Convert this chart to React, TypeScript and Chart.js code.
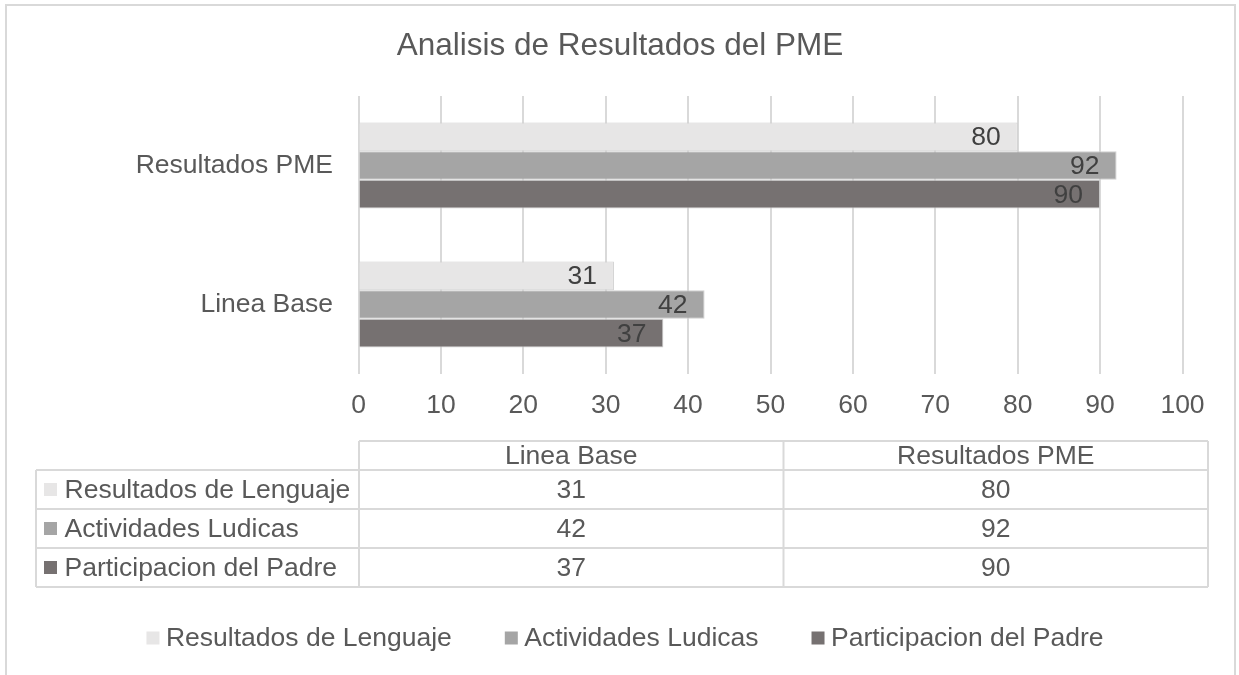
import { useEffect, useRef } from 'react';
import { Chart, registerables } from 'chart.js';

Chart.register(...registerables);

const chartTitle = 'Analisis de Resultados del PME';
const categories = ['Linea Base', 'Resultados PME'];
const seriesNames = ['Resultados de Lenguaje', 'Actividades Ludicas', 'Participacion del Padre'];
const lenguaje = [31, 80];
const ludicas = [42, 92];
const padre = [37, 90];
const seriesValues = [lenguaje, ludicas, padre];
const seriesColors = ['#E7E6E6', '#A5A5A5', '#767171'];
const xMin = 0;
const xMax = 100;
const xStep = 10;

const FONT = "'Liberation Sans', Arial, sans-serif";
const TEXT = '#595959';
const LINE = '#d9d9d9';
const FS = 26.5;

const framePlugin = {
  id: 'frame',
  beforeDraw(chart: any) {
    const ctx = chart.ctx;
    ctx.save();
    ctx.fillStyle = '#ffffff';
    ctx.fillRect(0, 0, chart.width, chart.height);
    ctx.strokeStyle = LINE;
    ctx.lineWidth = 2;
    ctx.strokeRect(6, 5, 1229, 740);
    ctx.font = `31.5px ${FONT}`;
    ctx.fillStyle = TEXT;
    ctx.textAlign = 'center';
    ctx.textBaseline = 'middle';
    ctx.fillText(chartTitle, 620, 46);
    ctx.restore();
  },
};

const valueLabelPlugin = {
  id: 'valueLabels',
  afterDatasetsDraw(chart: any) {
    const ctx = chart.ctx;
    ctx.save();
    ctx.font = `${FS}px ${FONT}`;
    ctx.fillStyle = '#404040';
    ctx.textAlign = 'right';
    ctx.textBaseline = 'middle';
    chart.data.datasets.forEach((ds: any, i: number) => {
      const meta = chart.getDatasetMeta(i);
      meta.data.forEach((bar: any, j: number) => {
        ctx.fillText(String(ds.data[j]), bar.x - 17, bar.y + 1);
      });
    });
    ctx.restore();
  },
};

const tablePlugin = {
  id: 'dataTable',
  afterDraw(chart: any) {
    const ctx = chart.ctx;
    const area = chart.chartArea;
    const labelLeft = 36;
    const colLeft = Math.round(area.left);
    const colW = 424.5;
    const right = colLeft + colW * categories.length;
    const headerTop = 441;
    const firstRow = 470;
    const rowH = 39;
    const bottom = firstRow + rowH * seriesNames.length;

    ctx.save();
    ctx.strokeStyle = LINE;
    ctx.lineWidth = 2;
    ctx.beginPath();
    ctx.moveTo(colLeft, headerTop);
    ctx.lineTo(right, headerTop);
    for (let r = 0; r <= seriesNames.length; r++) {
      const y = firstRow + rowH * r;
      ctx.moveTo(labelLeft, y);
      ctx.lineTo(right, y);
    }
    ctx.moveTo(labelLeft, firstRow);
    ctx.lineTo(labelLeft, bottom);
    for (let c = 0; c <= categories.length; c++) {
      const x = colLeft + colW * c;
      ctx.moveTo(x, headerTop);
      ctx.lineTo(x, bottom);
    }
    ctx.stroke();

    ctx.font = `${FS}px ${FONT}`;
    ctx.fillStyle = TEXT;
    ctx.textBaseline = 'middle';
    ctx.textAlign = 'center';
    categories.forEach((cat, c) => {
      ctx.fillText(cat, colLeft + colW * c + colW / 2, (headerTop + firstRow) / 2 + 1.5);
    });
    seriesNames.forEach((name, r) => {
      const cy = firstRow + rowH * r + rowH / 2;
      ctx.fillStyle = seriesColors[r];
      ctx.fillRect(44, cy - 6.5, 13, 13);
      ctx.fillStyle = TEXT;
      ctx.textAlign = 'left';
      ctx.fillText(name, 64.5, cy + 1.5);
      ctx.textAlign = 'center';
      seriesValues[r].forEach((v, c) => {
        ctx.fillText(String(v), colLeft + colW * c + colW / 2, cy + 1.5);
      });
    });

    const box = 13;
    const gapBoxText = 6.5;
    const gapItems = 53;
    const widths = seriesNames.map((n) => ctx.measureText(n).width);
    const total = widths.reduce((a, w) => a + box + gapBoxText + w, 0) + gapItems * (seriesNames.length - 1);
    let x = 625 - total / 2;
    const ly = 639;
    ctx.textAlign = 'left';
    seriesNames.forEach((name, i) => {
      ctx.fillStyle = seriesColors[i];
      ctx.fillRect(x, ly - 7.5, box, box);
      ctx.fillStyle = TEXT;
      ctx.fillText(name, x + box + gapBoxText, ly);
      x += box + gapBoxText + widths[i] + gapItems;
    });
    ctx.restore();
  },
};

export default function App() {
  const ref = useRef<HTMLCanvasElement>(null);

  useEffect(() => {
    if (!ref.current) return;
    Chart.defaults.font.family = FONT;
    Chart.defaults.color = TEXT;
    const order = categories.map((_, i) => i).reverse();
    const chart = new Chart(ref.current, {
      type: 'bar',
      data: {
        labels: order.map((i) => categories[i]),
        datasets: seriesNames.map((name, s) => ({
          label: name,
          data: order.map((i) => seriesValues[s][i]),
          backgroundColor: seriesColors[s],
          borderColor: '#d0d0d0',
          borderWidth: 1,
          categoryPercentage: 0.62,
          barPercentage: 1,
        })),
      },
      options: {
        indexAxis: 'y',
        responsive: false,
        devicePixelRatio: 1,
        animation: false,
        layout: { padding: { left: 0, right: 56.5, top: 96, bottom: 261 } },
        plugins: {
          legend: { display: false },
          tooltip: { enabled: false },
          title: { display: false },
        },
        scales: {
          x: {
            type: 'linear',
            min: xMin,
            max: xMax,
            ticks: { stepSize: xStep, color: TEXT, font: { size: FS, family: FONT }, padding: 16 },
            grid: { color: LINE, lineWidth: 2, drawTicks: false },
            border: { display: false },
            afterFit: (scale: any) => {
              scale.height = 40;
            },
          },
          y: {
            type: 'category',
            ticks: { color: TEXT, font: { size: FS, family: FONT }, padding: 25.5 },
            grid: { display: false, drawTicks: false },
            border: { display: false },
            afterFit: (scale: any) => {
              scale.width = 358.5;
            },
          },
        },
      } as any,
      plugins: [framePlugin, valueLabelPlugin, tablePlugin],
    });
    return () => chart.destroy();
  }, []);

  return (
    <div style={{ position: 'absolute', left: 0, top: 0, width: 1239, height: 675 }}>
      <canvas ref={ref} width={1239} height={675} style={{ display: 'block', width: 1239, height: 675 }} />
    </div>
  );
}
